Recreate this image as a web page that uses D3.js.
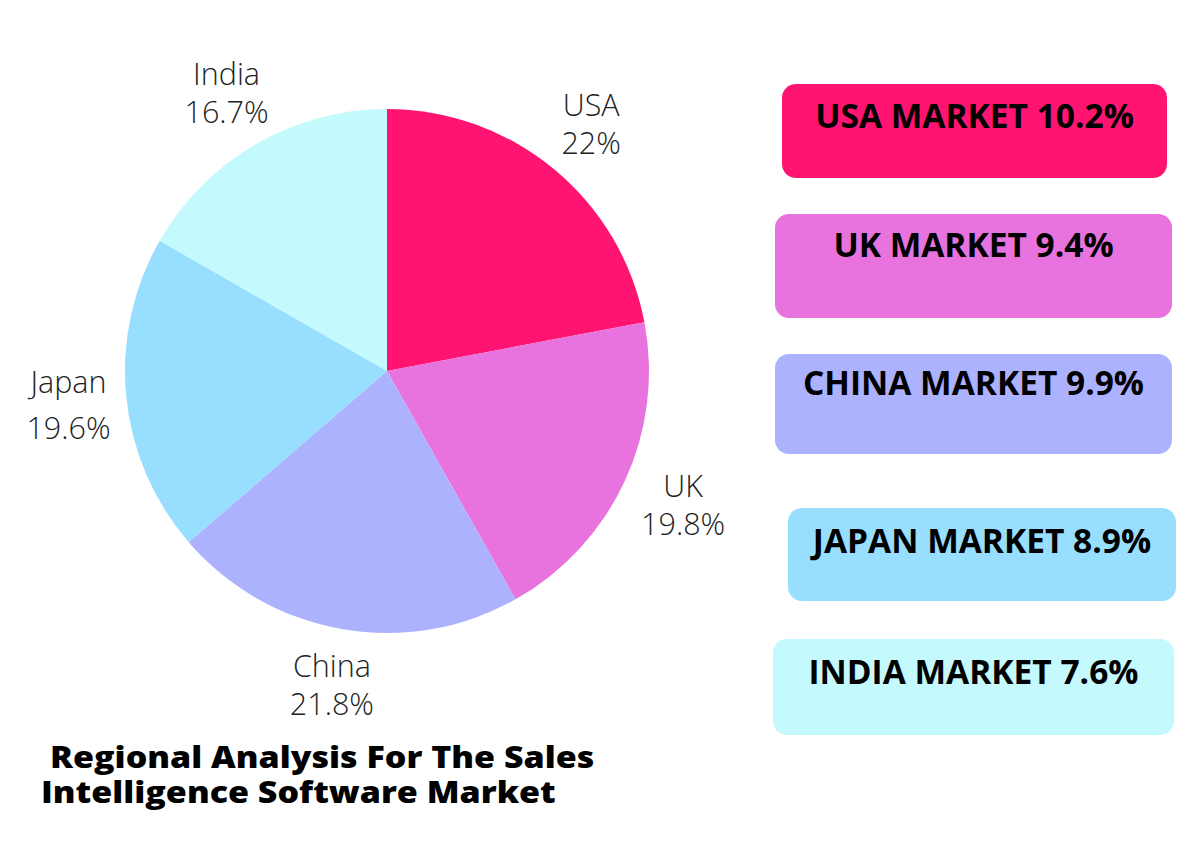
<!DOCTYPE html>
<html><head><meta charset="utf-8">
<script src="https://cdn.jsdelivr.net/npm/d3@7"></script>
<style>body{margin:0;background:#fff}svg{display:block}</style>
</head><body>
<svg id="c" width="1198" height="861"></svg>
<script>
const regions = ["USA","UK","China","Japan","India"];
const shares = [22, 19.8, 21.8, 19.6, 16.7];
const shareLabels = ["22%","19.8%","21.8%","19.6%","16.7%"];
const colors = ["#FF1472","#E873DE","#ADB2FF","#97DEFF","#C4F9FD"];
const marketLabels = ["USA MARKET 10.2%","UK MARKET 9.4%","CHINA MARKET 9.9%","JAPAN MARKET 8.9%","INDIA MARKET 7.6%"];
const titleLines = ["Regional Analysis For The Sales","Intelligence Software Market"];

const svg = d3.select("#c");
const cx = 387, cy = 371, r = 262;
const g = svg.append("g").attr("transform",`translate(${cx},${cy})`);
const pie = d3.pie().sort(null).value(d=>d);
const arcs = pie(shares);
const arc = d3.arc().innerRadius(0).outerRadius(r);
const labelArc = d3.arc().innerRadius(320).outerRadius(320);
g.selectAll("path").data(arcs).join("path").attr("d",arc).attr("fill",(d,i)=>colors[i]);

const lbl = g.selectAll("g.lbl").data(arcs).join("g").attr("class","lbl")
  .attr("transform",(d,i)=>{const c=labelArc.centroid(d); return `translate(${c[0]+(i===1?6:0)},${c[1]})`;});
lbl.append("text").attr("text-anchor","middle").attr("y",-9)
  .attr("font-family","Open Sans").attr("font-weight",300).attr("font-size",30.5).attr("fill","#222")
  .text((d,i)=>regions[i]);
lbl.append("text").attr("text-anchor","middle").attr("y",(d,i)=>i===3?37:29)
  .attr("font-family","Open Sans").attr("font-weight",300).attr("font-size",30.5).attr("fill","#222")
  .text((d,i)=>shareLabels[i]);

// market boxes
const boxes = [
  {x:782,y:84,w:385,h:94,ty:128},
  {x:775,y:214,w:397,h:104,ty:257},
  {x:775,y:354,w:397,h:100,ty:395},
  {x:788,y:508,w:388,h:93,ty:553},
  {x:773,y:639,w:401,h:96,ty:684}
];
const bg = svg.selectAll("g.box").data(marketLabels).join("g").attr("class","box");
bg.append("rect").attr("x",(d,i)=>boxes[i].x).attr("y",(d,i)=>boxes[i].y)
  .attr("width",(d,i)=>boxes[i].w).attr("height",(d,i)=>boxes[i].h)
  .attr("rx",14).attr("fill",(d,i)=>colors[i]);
bg.append("text").attr("x",(d,i)=>boxes[i].x+boxes[i].w/2).attr("y",(d,i)=>boxes[i].ty)
  .attr("text-anchor","middle").attr("font-family","Open Sans").attr("font-weight",700)
  .attr("font-size",33.5).attr("fill","#000").text(d=>d);

// title (slightly condensed vertically as in the reference)
const titlePos = [[50,768],[41,803]];
svg.selectAll("text.title").data(titleLines).join("text").attr("class","title")
  .attr("transform",(d,i)=>`translate(${titlePos[i][0]},${titlePos[i][1]}) scale(1,0.88)`)
  .attr("font-family","Open Sans").attr("font-weight",800)
  .attr("font-size",34).attr("fill","#000").text(d=>d);
</script>
</body></html>
